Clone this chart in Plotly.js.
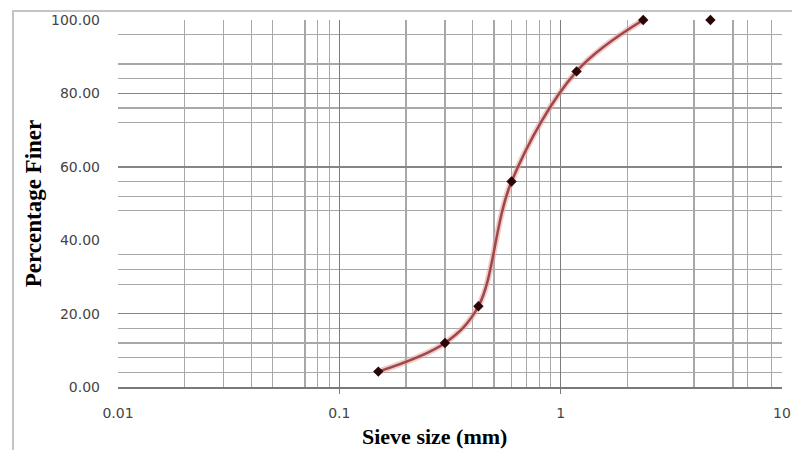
<!DOCTYPE html>
<html>
<head>
<meta charset="utf-8">
<script src="https://cdn.plot.ly/plotly-3.0.1.min.js"></script>
<style>
  html, body { margin: 0; padding: 0; background: #fff; }
  #wrap { position: relative; width: 792px; height: 450px; overflow: hidden; }
  #chart { position: absolute; left: 0; top: 0; width: 792px; height: 450px; }
  #frame { position: absolute; left: 12px; top: 10px; width: 800px; height: 460px;
           border: 2px solid #c4c4c4; box-sizing: border-box; pointer-events: none; }
</style>
</head>
<body>
<div id="wrap">
  <div id="chart"></div>
  <div id="frame"></div>
</div>
<script>
// ---- data ----
const sieveSize    = [0.15, 0.3, 0.425, 0.6, 1.18, 2.36, 4.75];   // mm
const percentFiner = [4.2, 12.0, 22.0, 56.0, 86.0, 100.0, 100.0];
const curvePoints  = 6;   // smooth curve drawn through the first six points

// ---- axis ticks and grid values ----
const xTickVals  = [0.01, 0.1, 1, 10];
const xTickText  = ['0.01', '0.1', '1', '10'];
const xMajorGrid = [0.1, 1];
const xMinorGrid = [0.02, 0.03, 0.04, 0.05, 0.07, 0.08, 0.09,
                    0.2, 0.3, 0.4, 0.5, 0.6, 0.7, 0.8, 0.9,
                    2, 4, 6, 7, 9];
const yTickVals  = [0, 20, 40, 60, 80, 100];
const yMajorGrid = [0, 20, 60, 80, 100];
const yMinorGrid = [4, 8, 12, 16, 28, 32, 36, 48, 52, 56, 72, 76, 84, 88, 96];

const xTitle = 'Sieve size (mm)';
const yTitle = 'Percentage Finer';

const curveX = sieveSize.slice(0, curvePoints);
const curveY = percentFiner.slice(0, curvePoints);

const traces = [
  { // soft halo under the curve
    x: curveX, y: curveY, type: 'scatter', mode: 'lines',
    line: { shape: 'spline', smoothing: 1, color: 'rgba(225,160,160,0.55)', width: 6 },
    hoverinfo: 'skip', showlegend: false, cliponaxis: false
  },
  {
    x: curveX, y: curveY, type: 'scatter', mode: 'lines',
    line: { shape: 'spline', smoothing: 1, color: '#a04646', width: 2.5 },
    showlegend: false, cliponaxis: false
  },
  {
    x: sieveSize, y: percentFiner, type: 'scatter', mode: 'markers',
    marker: { symbol: 'diamond', size: 8, color: '#2a0606' },
    showlegend: false, cliponaxis: false
  },
  { // empty trace that carries the overlay axes (major grid lines)
    x: [], y: [], type: 'scatter', mode: 'markers',
    xaxis: 'x2', yaxis: 'y2', showlegend: false, hoverinfo: 'skip'
  }
];

const tickFont = { family: 'DejaVu Sans, Verdana, sans-serif', size: 14, color: '#454545' };
const titleFont = { family: 'Liberation Serif, Times New Roman, serif', size: 22, color: '#000' };

const layout = {
  width: 792, height: 450,
  margin: { l: 118, r: 10, t: 20, b: 63 },
  paper_bgcolor: '#fff', plot_bgcolor: '#fff',
  showlegend: false,
  xaxis: {
    type: 'log', range: [-2, 1], fixedrange: true,
    tickmode: 'array', tickvals: xTickVals, ticktext: xTickText,
    ticks: '', showgrid: false, zeroline: false,
    showline: true, linecolor: '#7a7a7a', linewidth: 1.5,
    tickfont: tickFont, ticklabelstandoff: 13,
    minor: { tickmode: 'array', tickvals: xMinorGrid, showgrid: true,
             gridcolor: '#a8a8a8', gridwidth: 1.2, ticks: '' }
  },
  xaxis2: {
    type: 'log', range: [-2, 1], overlaying: 'x', anchor: 'y', side: 'bottom',
    tickmode: 'array', tickvals: xMajorGrid, showticklabels: false,
    ticks: 'outside', ticklen: 6, tickcolor: '#7a7a7a', tickwidth: 1.2,
    showgrid: true, gridcolor: '#7d7d7d', gridwidth: 1.3, zeroline: false,
    showline: false, fixedrange: true
  },
  yaxis: {
    range: [0, 100], fixedrange: true,
    tickmode: 'array', tickvals: yTickVals, tickformat: '.2f',
    ticks: '', showgrid: false, zeroline: false, showline: false,
    tickfont: tickFont, ticklabelstandoff: 17,
    minor: { tickmode: 'array', tickvals: yMinorGrid, showgrid: true,
             gridcolor: '#a8a8a8', gridwidth: 1.2, ticks: '' },
    title: { text: '<b>' + yTitle + '</b>', font: Object.assign({}, titleFont, { size: 23 }), standoff: 2 }
  },
  yaxis2: {
    range: [0, 100], overlaying: 'y', anchor: 'x', side: 'left',
    tickmode: 'array', tickvals: yMajorGrid, showticklabels: false, ticks: '',
    showgrid: true, gridcolor: '#858585', gridwidth: 1.4, zeroline: false,
    showline: false, fixedrange: true
  },
  annotations: [
    { text: '<b>' + xTitle + '</b>', xref: 'paper', yref: 'paper',
      x: 0.477, y: -0.136, xanchor: 'center', yanchor: 'middle',
      showarrow: false, font: titleFont }
  ]
};

Plotly.newPlot('chart', traces, layout, { staticPlot: true, displayModeBar: false });
</script>
</body>
</html>
